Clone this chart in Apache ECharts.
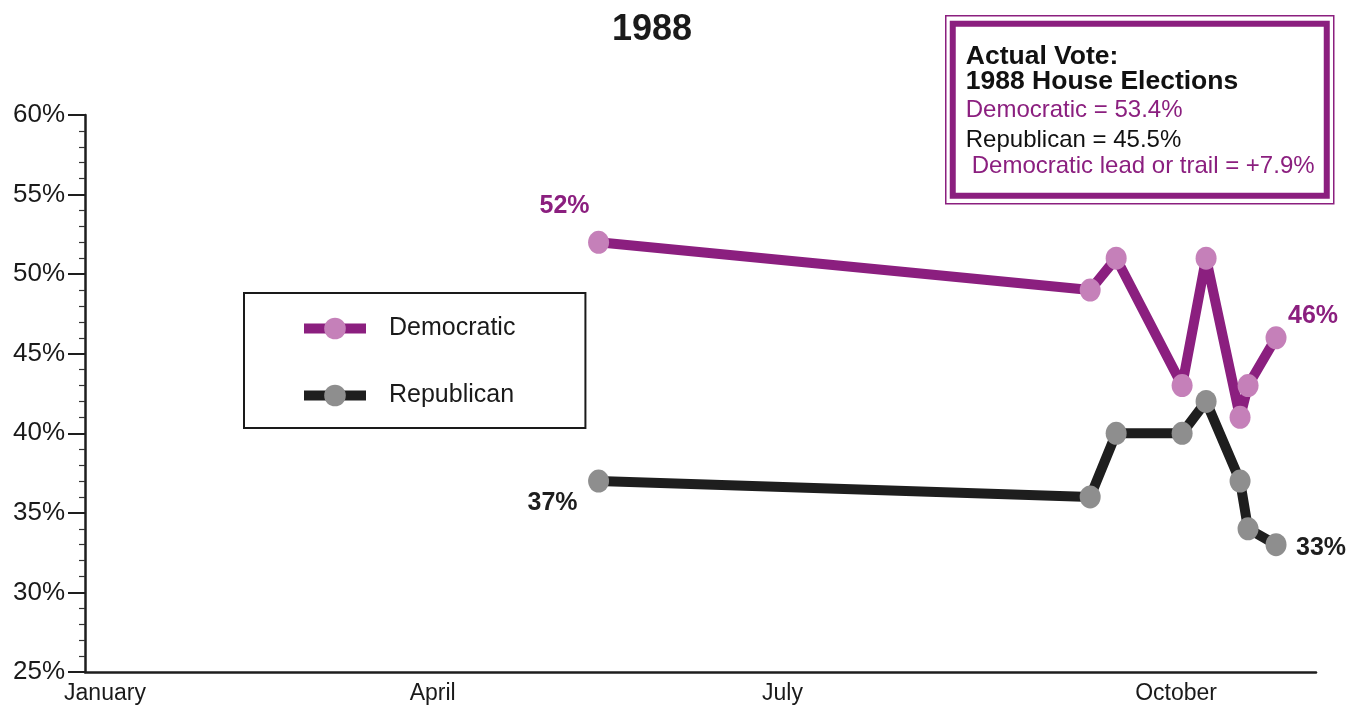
<!DOCTYPE html>
<html>
<head>
<meta charset="utf-8">
<title>1988</title>
<script src="https://cdn.jsdelivr.net/npm/echarts@6/dist/echarts.min.js"></script>
<style>
  html, body { margin: 0; padding: 0; background: #ffffff; }
  #chart { width: 1350px; height: 709px; }
</style>
</head>
<body>
<div id="chart"></div>
<script>
// Poll dates, as day of the year (0 = January 1)
var pollDays = [128.5, 251.5, 258, 274.5, 280.5, 289, 291, 298];
// Share of the vote for each party, percent
var democratic = [52, 49, 51, 43, 51, 41, 43, 46];
var republican = [37, 36, 40, 40, 42, 37, 34, 33];
// Month labels along the time axis and where they sit (day of year)
var monthLabels = ['January', 'April', 'July', 'October'];
var monthLabelDays = [5, 87, 174.5, 273];
// Y axis range and step, percent
var yTicks = { min: 25, max: 60, step: 5 };
// Actual vote box
var voteTitle = ['Actual Vote:', '1988 House Elections'];
var voteLines = ['Democratic = 53.4%', 'Republican = 45.5%', 'Democratic lead or trail = +7.9%'];

var PURPLE = '#8b1f7f';
var PINK = '#c580b9';
var BLACK = '#1e1e1e';
var GREY = '#8e8e8e';
var FONT = '"Liberation Sans", Arial, Helvetica, sans-serif';

// First and last points carry their value as a label, offset away from the line
function buildData(values, color, firstOffset, lastOffset) {
  return values.map(function (v, i) {
    var item = { value: [pollDays[i], v] };
    if (i === 0 || i === values.length - 1) {
      item.label = {
        show: true,
        position: 'inside',
        offset: i === 0 ? firstOffset : lastOffset,
        formatter: function (p) { return p.value[1] + '%'; },
        color: color,
        fontFamily: FONT,
        fontWeight: 'bold',
        fontSize: 25
      };
    }
    return item;
  });
}

var chart = echarts.init(document.getElementById('chart'), null, { renderer: 'canvas' });

chart.setOption({
  backgroundColor: '#ffffff',
  animation: false,
  title: {
    text: '1988',
    left: 647,
    top: 7,
    textAlign: 'center',
    textStyle: { fontFamily: FONT, fontWeight: 'bold', fontSize: 36, color: '#1a1a1a' }
  },
  grid: { left: 85, right: 34, top: 115, bottom: 37, containLabel: false },
  legend: {
    left: 244,
    top: 293,
    orient: 'vertical',
    padding: [23, 70, 20, 55],
    borderColor: '#1a1a1a',
    borderWidth: 2,
    itemWidth: 62,
    itemHeight: 27,
    itemGap: 42,
    lineStyle: { width: 10 },
    data: [
      { name: 'Democratic', lineStyle: { color: PURPLE, width: 10 }, itemStyle: { color: PINK } },
      { name: 'Republican', lineStyle: { color: BLACK, width: 10 }, itemStyle: { color: GREY } }
    ],
    textStyle: { fontFamily: FONT, fontSize: 25, color: '#1a1a1a', padding: [0, 0, 0, 18] }
  },
  xAxis: {
    type: 'value',
    min: 0,
    max: 308,
    axisLine: { show: true, lineStyle: { color: '#1e1e1e', width: 2.5 } },
    axisTick: { show: false },
    splitLine: { show: false },
    axisLabel: {
      customValues: monthLabelDays,
      formatter: function (v) {
        var i = monthLabelDays.indexOf(v);
        return i >= 0 ? monthLabels[i] : '';
      },
      margin: 10,
      fontFamily: FONT,
      fontSize: 23,
      color: '#1a1a1a'
    }
  },
  yAxis: {
    type: 'value',
    min: yTicks.min,
    max: yTicks.max,
    interval: yTicks.step,
    axisLine: { show: true, lineStyle: { color: '#1e1e1e', width: 2.5 } },
    axisTick: { show: true, length: 17, lineStyle: { color: '#1e1e1e', width: 2 } },
    minorTick: { show: true, splitNumber: 5, length: 6, lineStyle: { color: '#333', width: 1.2 } },
    splitLine: { show: false },
    axisLabel: {
      formatter: '{value}%',
      margin: 20,
      fontFamily: FONT,
      fontSize: 26,
      color: '#1a1a1a'
    }
  },
  series: [
    {
      name: 'Republican',
      type: 'line',
      z: 2,
      data: buildData(republican, BLACK, [-46, 22], [45, 3]),
      symbol: 'circle',
      symbolSize: [21, 23],
      lineStyle: { color: BLACK, width: 10 },
      itemStyle: { color: GREY },
      emphasis: { disabled: true }
    },
    {
      name: 'Democratic',
      type: 'line',
      z: 3,
      data: buildData(democratic, PURPLE, [-34, -36], [37, -22]),
      symbol: 'circle',
      symbolSize: [21, 23],
      lineStyle: { color: PURPLE, width: 10 },
      itemStyle: { color: PINK },
      emphasis: { disabled: true }
    }
  ],
  graphic: [
    {
      type: 'group',
      left: 945,
      top: 15,
      children: [
        { type: 'rect', shape: { x: 0, y: 0, width: 388, height: 188 },
          style: { fill: '#ffffff', stroke: PURPLE, lineWidth: 1.5 } },
        { type: 'rect', shape: { x: 7, y: 8, width: 374, height: 172 },
          style: { fill: 'none', stroke: PURPLE, lineWidth: 6 } },
        { type: 'text', x: 20, y: 41, style: { text: voteTitle[0], fill: '#111',
          font: 'bold 26.5px ' + FONT, verticalAlign: 'middle' } },
        { type: 'text', x: 20, y: 66, style: { text: voteTitle[1], fill: '#111',
          font: 'bold 26.5px ' + FONT, verticalAlign: 'middle' } },
        { type: 'text', x: 20, y: 95, style: { text: voteLines[0], fill: PURPLE,
          font: '24px ' + FONT, verticalAlign: 'middle' } },
        { type: 'text', x: 20, y: 125, style: { text: voteLines[1], fill: '#111',
          font: '24px ' + FONT, verticalAlign: 'middle' } },
        { type: 'text', x: 26, y: 151, style: { text: voteLines[2], fill: PURPLE,
          font: '24px ' + FONT, verticalAlign: 'middle' } }
      ]
    }
  ]
});
</script>
</body>
</html>
